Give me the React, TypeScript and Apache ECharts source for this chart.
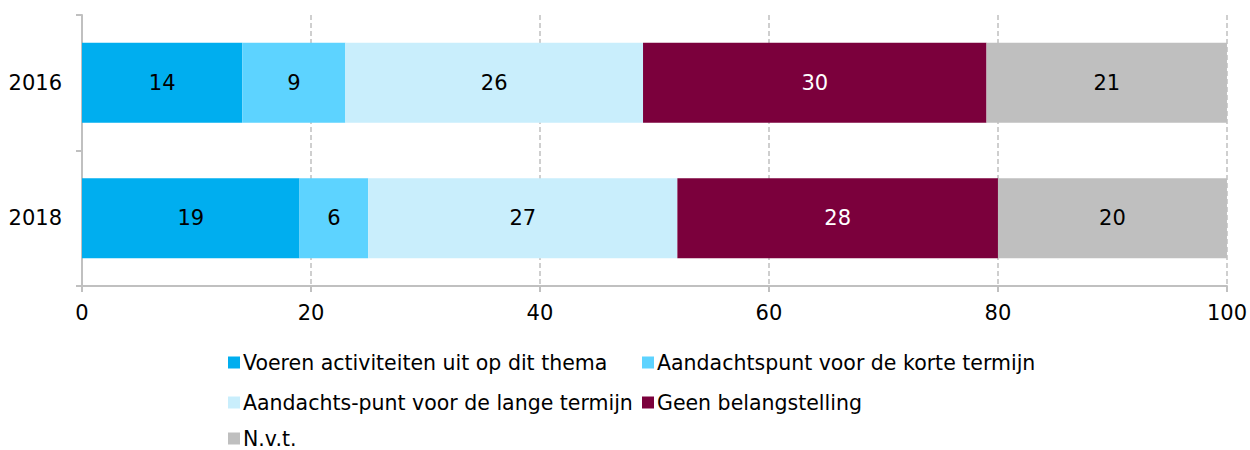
import React, { useEffect, useRef } from "react";
import * as echarts from "echarts";

const categories = ["2016", "2018"];
const seriesNames = [
  "Voeren activiteiten uit op dit thema",
  "Aandachtspunt voor de korte termijn",
  "Aandachts-punt voor de lange termijn",
  "Geen belangstelling",
  "N.v.t.",
];
const voeren = [14, 19];
const korte = [9, 6];
const lange = [26, 27];
const geen = [30, 28];
const nvt = [21, 20];
const seriesValues = [voeren, korte, lange, geen, nvt];
const colors = ["#00AEEF", "#5DD3FF", "#C9EEFC", "#7B003C", "#BFBFBF"];
const labelColors = ["#000", "#000", "#000", "#fff", "#000"];

const FONT = "DejaVu Sans";

export default function App() {
  const ref = useRef<HTMLDivElement>(null);
  useEffect(() => {
    if (!ref.current) return;
    const chart = echarts.init(ref.current, undefined, { renderer: "svg" });
    const legendPos = [
      { left: 228, top: 352 },
      { left: 642, top: 352 },
      { left: 228, top: 392 },
      { left: 642, top: 392 },
      { left: 228, top: 428 },
    ];
    chart.setOption({
      animation: false,
      grid: { left: 82, right: 23, top: 15, bottom: 164 },
      xAxis: {
        type: "value",
        min: 0,
        max: 100,
        interval: 20,
        axisLine: { show: true, lineStyle: { color: "#C0C0C0", width: 2 } },
        axisTick: { show: true, length: 6, lineStyle: { color: "#C0C0C0", width: 2 } },
        axisLabel: { fontFamily: FONT, fontSize: 21, color: "#000", margin: 16 },
        splitLine: { show: true, lineStyle: { color: "#C0C0C0", type: [5, 3], width: 1.5 } },
      },
      yAxis: {
        type: "category",
        data: categories,
        inverse: true,
        axisLine: { show: true, lineStyle: { color: "#C0C0C0", width: 2 } },
        axisTick: { show: true, length: 6, lineStyle: { color: "#C0C0C0", width: 2 } },
        axisLabel: { fontFamily: FONT, fontSize: 21, color: "#000", margin: 20 },
      },
      legend: seriesNames.map((n, i) => ({
        data: [n],
        left: legendPos[i].left,
        top: legendPos[i].top,
        padding: 0,
        icon: "rect",
        itemWidth: 12,
        itemHeight: 12,
        selectedMode: false,
        textStyle: { fontFamily: FONT, fontSize: 20.5, color: "#000", padding: [0, 0, 0, -2] },
      })),
      series: seriesNames.map((n, i) => ({
        name: n,
        type: "bar",
        stack: "total",
        barWidth: 80,
        data: seriesValues[i],
        itemStyle: { color: colors[i] },
        label: {
          show: true,
          position: "inside",
          fontFamily: FONT,
          fontSize: 21,
          color: labelColors[i],
        },
      })),
    });
    return () => chart.dispose();
  }, []);
  return <div ref={ref} style={{ width: 1250, height: 450, position: "absolute", left: 0, top: 0 }} />;
}
